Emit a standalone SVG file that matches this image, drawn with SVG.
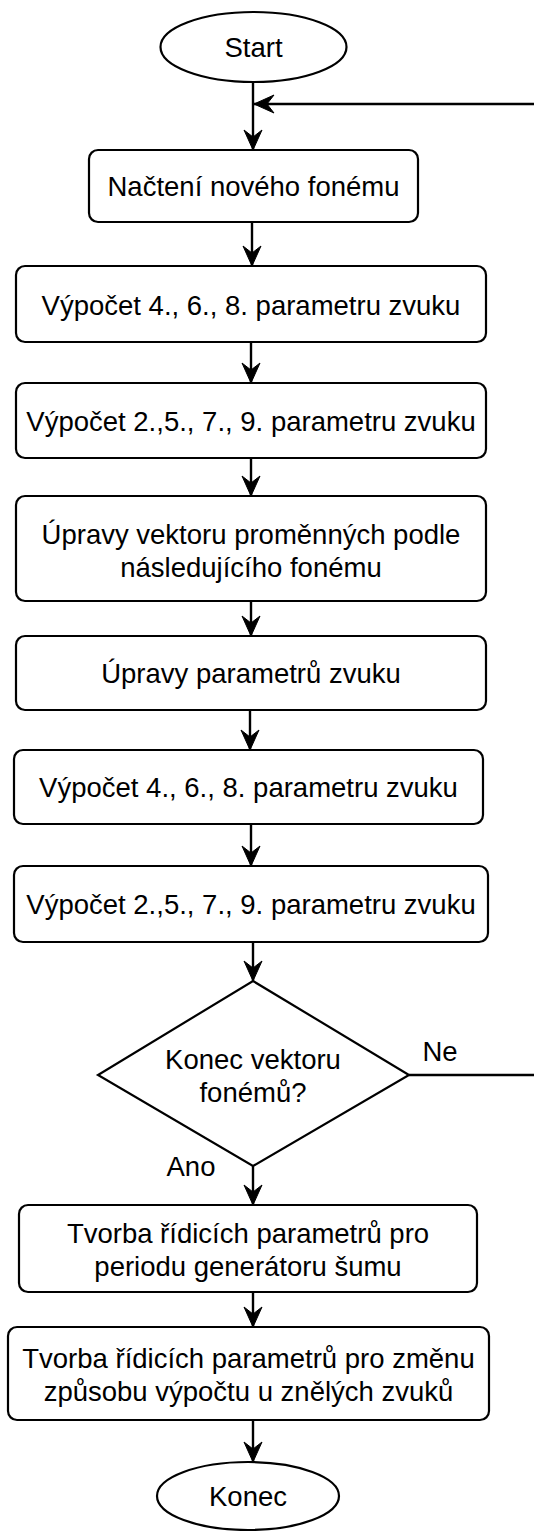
<svg xmlns="http://www.w3.org/2000/svg" width="534" height="1531" viewBox="0 0 534 1531">
<style>
.n{fill:#fff;stroke:#000;stroke-width:2.2}
.t{font-family:"Liberation Sans",Arial,Helvetica,sans-serif;font-size:27.5px;fill:#000;text-anchor:middle}
.c{fill:none;stroke:#000;stroke-width:2.4}
</style>
<defs>
<marker id="a" viewBox="-22 -10 23 20" refX="0" refY="0" markerWidth="23" markerHeight="20" markerUnits="userSpaceOnUse" orient="auto">
<path d="M0,0 L-20,-9 L-13,0 L-20,9 Z" fill="#000" stroke="#000" stroke-width="1"/>
</marker>
</defs>
<rect width="534" height="1531" fill="#fff"/>
<g id="connectors">
<path class="c" d="M253,82 L253,150" marker-end="url(#a)"/>
<path class="c" d="M409,1075 L540,1075 L540,104 L254,104" marker-end="url(#a)"/>
<path class="c" d="M252,222 L252,266" marker-end="url(#a)"/>
<path class="c" d="M251,342 L251,383" marker-end="url(#a)"/>
<path class="c" d="M251,455 L251,496" marker-end="url(#a)"/>
<path class="c" d="M251,601 L251,636" marker-end="url(#a)"/>
<path class="c" d="M250,710 L250,750" marker-end="url(#a)"/>
<path class="c" d="M251,824 L251,866" marker-end="url(#a)"/>
<path class="c" d="M253,942 L253,981" marker-end="url(#a)"/>
<path class="c" d="M253,1166 L253,1205" marker-end="url(#a)"/>
<path class="c" d="M253,1292 L253,1327" marker-end="url(#a)"/>
<path class="c" d="M253,1420 L253,1462" marker-end="url(#a)"/>
</g>
<g id="start">
<ellipse class="n" cx="253.5" cy="47" rx="93" ry="35"/>
<text class="t" x="253.5" y="57">Start</text>
</g>
<g id="n1">
<rect class="n" x="89" y="150" width="329" height="72" rx="9"/>
<text class="t" x="253.5" y="196">Načtení nového fonému</text>
</g>
<g id="n2">
<rect class="n" x="16" y="266" width="470" height="76" rx="9"/>
<text class="t" x="251" y="315">Výpočet 4., 6., 8. parametru zvuku</text>
</g>
<g id="n3">
<rect class="n" x="16" y="383" width="470" height="75" rx="9"/>
<text class="t" x="251" y="431">Výpočet 2.,5., 7., 9. parametru zvuku</text>
</g>
<g id="n4">
<rect class="n" x="16" y="496" width="470" height="105" rx="9"/>
<text class="t" x="251" y="544">Úpravy vektoru proměnných podle</text>
<text class="t" x="251" y="577">následujícího fonému</text>
</g>
<g id="n5">
<rect class="n" x="16" y="636" width="470" height="74" rx="9"/>
<text class="t" x="251" y="683">Úpravy parametrů zvuku</text>
</g>
<g id="n6">
<rect class="n" x="14" y="750" width="469" height="74" rx="9"/>
<text class="t" x="248.5" y="797">Výpočet 4., 6., 8. parametru zvuku</text>
</g>
<g id="n7">
<rect class="n" x="14" y="866" width="474" height="76" rx="9"/>
<text class="t" x="251" y="914">Výpočet 2.,5., 7., 9. parametru zvuku</text>
</g>
<g id="decision">
<path class="n" d="M253,981 L409,1075 L253,1166 L98,1075 Z"/>
<text class="t" x="253" y="1069">Konec vektoru</text>
<text class="t" x="253" y="1102">fonémů?</text>
<text class="t" x="440" y="1061">Ne</text>
<text class="t" x="191" y="1176">Ano</text>
</g>
<g id="n8">
<rect class="n" x="19" y="1205" width="458" height="87" rx="9"/>
<text class="t" x="248" y="1243">Tvorba řídicích parametrů pro</text>
<text class="t" x="248" y="1276">periodu generátoru šumu</text>
</g>
<g id="n9">
<rect class="n" x="8" y="1327" width="481" height="93" rx="9"/>
<text class="t" x="248.5" y="1368">Tvorba řídicích parametrů pro změnu</text>
<text class="t" x="248.5" y="1401">způsobu výpočtu u znělých zvuků</text>
</g>
<g id="end">
<ellipse class="n" cx="248" cy="1496" rx="91" ry="34"/>
<text class="t" x="248" y="1506">Konec</text>
</g>
</svg>
